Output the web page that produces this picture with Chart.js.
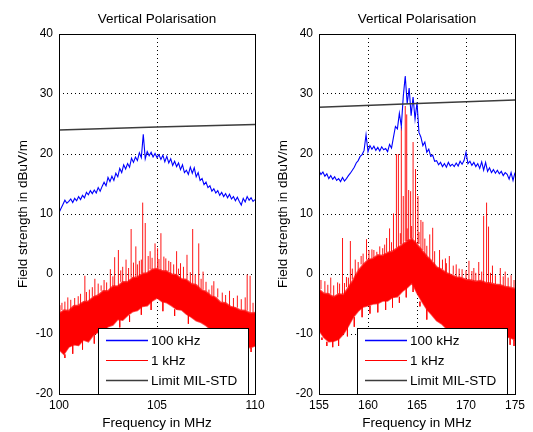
<!DOCTYPE html>
<html>
<head>
<meta charset="utf-8">
<script src="https://cdn.jsdelivr.net/npm/chart.js@4"></script>
<style>
html,body{margin:0;padding:0;background:#fff;}
#wrap{position:relative;width:533px;height:432px;overflow:hidden;}
.panel{position:absolute;top:0;}
</style>
</head>
<body>
<div id="wrap">
<div class="panel" style="left:0"><canvas id="leftChart" width="266" height="432"></canvas></div>
<div class="panel" style="left:266px"><canvas id="rightChart" width="267" height="432"></canvas></div>
</div>
<script>

// DATA

const plotTitle = 'Vertical Polarisation'
const xTitle = 'Frequency in MHz'
const yTitle = 'Field strength in dBuV/m'
const seriesNames = ['100 kHz', '1 kHz', 'Limit MIL-STD']
const yTicks = [-20, -10, 0, 10, 20, 30, 40]

// left panel, 100..110 MHz
const leftTicksX = [100, 105, 110]
const leftBlueStep = 0.1
const leftBlue = [
10.2, 10.9, 11.6, 12.3, 11.8, 12.1, 12.5, 11.9, 12.6, 12.2,
12.9, 12.4, 13.1, 12.7, 13.6, 13.2, 13.9, 13.4, 14.0, 13.5,
14.4, 13.8, 14.6, 15.3, 14.7, 16.1, 15.4, 16.3, 15.6, 16.8,
16.2, 17.6, 16.9, 18.2, 17.5, 18.4, 17.8, 19.3, 18.6, 19.5,
18.9, 20.2, 19.4, 23.3, 19.2, 20.4, 19.7, 20.3, 19.5, 20.1,
19.4, 19.9, 19.1, 19.8, 18.7, 19.6, 18.5, 19.2, 18.1, 18.8,
17.9, 18.5, 17.4, 18.2, 16.9, 17.3, 16.6, 17.8, 16.8, 17.7,
16.2, 16.9, 15.6, 15.9, 14.9, 15.3, 14.4, 14.7, 13.8, 14.2,
13.5, 13.9, 13.1, 13.6, 12.9, 13.4, 12.7, 13.3, 12.5, 12.9,
12.2, 12.8, 12.1, 11.5, 12.6, 12.0, 12.9, 12.3, 12.7, 12.1,
12.4
]
const leftBandStep = 0.25
const leftRedHigh = [
-6.6, -6.0, -6.1, -5.3, -5.2, -4.6, -4.5, -3.8, -3.5, -2.8,
-2.8, -2.0, -2.0, -1.3, -1.3, -0.6, -0.5, 0.1, 0.2, 0.8,
0.9, 0.6, 0.5, 0.0, -0.1, -0.8, -0.9, -1.6, -1.8, -2.6,
-2.9, -3.6, -3.9, -4.7, -4.8, -5.4, -5.6, -6.0, -6.1, -6.5,
-6.4
]
const leftRedLow = [
-12.6, -13.4, -12.2, -11.8, -11.9, -11.0, -11.3, -10.2, -9.7, -9.4,
-8.8, -8.5, -7.6, -7.7, -6.9, -6.3, -6.1, -5.4, -5.3, -4.5,
-4.0, -4.6, -4.8, -5.3, -5.9, -6.0, -6.7, -7.2, -7.8, -8.1,
-8.6, -9.3, -9.2, -9.9, -10.4, -10.2, -11.0, -11.2, -11.6, -12.3,
-12.0
]
// spikes rising above the 1 kHz band
const leftSpikeFreq = [100.05, 100.15, 100.3, 100.45, 100.6, 100.8, 100.98, 101.1, 101.32, 101.4,
101.55, 101.7, 101.83, 102.0, 102.15, 102.3, 102.43, 102.62, 102.75, 102.84,
103.03, 103.15, 103.25, 103.42, 103.55, 103.68, 103.8, 103.92, 104.0, 104.1,
104.2, 104.27, 104.4, 104.55, 104.65, 104.75, 104.9, 105.03, 105.1, 105.2,
105.35, 105.45, 105.6, 105.7, 105.85, 106.0, 106.1, 106.2, 106.35, 106.53,
106.7, 106.82, 106.95, 107.13, 107.25, 107.35, 107.5, 107.65, 107.8, 107.9,
108.1, 108.33, 108.5, 108.7, 108.9, 109.1, 109.3, 109.5, 109.6, 109.75, 109.9]
const leftSpikeTop = [-5.2, -4.8, -4.6, -3.9, -4.3, -4.0, -3.7, -3.3, -0.3, -3.0,
-2.6, -2.2, -0.8, -1.6, -1.9, -1.0, -1.4, 0.8, -0.4, 2.8,
4.0, 0.6, 1.2, 2.4, 1.0, 7.5, 1.9, 4.6, 1.6, 2.2,
2.4, 11.9, 8.5, 3.0, 3.8, 2.7, 5.1, 4.3, 2.5, 6.8,
2.9, 2.6, 2.2, 2.0, 1.6, 3.8, 0.9, 1.8, 1.2, 3.2,
0.3, 7.5, -0.1, 5.1, -0.8, 0.4, -1.3, -2.6, -1.9, -1.2,
-2.4, -3.1, -3.5, -2.8, -4.0, -3.6, -4.2, -3.9, -0.1, -0.3, -4.8]
// dips below the band
const leftDipFreq = [100.3, 100.7, 101.2, 101.8, 102.4, 103.1, 103.6, 104.2, 104.7, 105.3, 105.9, 106.6, 109.2, 109.8]
const leftDipBottom = [-14.0, -13.3, -12.6, -11.6, -10.4, -8.9, -8.0, -6.8, -6.0, -6.2, -7.0, -8.3, -12.6, -13.0]
const leftLimitFreq = [100, 105, 110]
const leftLimit = [24.0, 24.5, 24.9]

// right panel, 155..175 MHz
const rightTicksX = [155, 160, 165, 170, 175]
const rightBlueStep = 0.2
const rightBlue = [
17.2, 16.6, 17.0, 16.3, 16.7, 15.9, 16.4, 15.8, 16.2, 15.6,
15.9, 15.4, 16.1, 15.5, 15.9, 16.4, 16.8, 17.3, 17.8, 18.5,
18.9, 19.6, 19.9, 20.6, 23.2, 20.4, 21.4, 20.8, 21.3, 20.6,
21.1, 20.5, 21.2, 20.7, 20.9, 20.4, 21.6, 21.0, 22.8, 24.6,
24.2, 26.8, 24.6, 29.6, 33.0, 28.4, 31.0, 26.4, 29.5, 25.8,
28.6, 23.6, 22.8, 21.4, 22.0, 20.3, 20.8, 19.6, 19.8, 18.8,
18.9, 18.2, 18.6, 17.9, 18.4, 17.8, 18.6, 18.0, 18.3, 17.9,
18.5, 18.0, 18.8, 18.3, 18.9, 20.3, 18.4, 18.8, 18.1, 18.6,
17.9, 18.4, 17.6, 18.7, 17.3, 18.6, 17.1, 17.7, 16.9, 17.4,
16.8, 17.3, 16.7, 17.1, 16.4, 16.9, 16.6, 15.8, 16.9, 15.6,
16.9
]
const rightBandStep = 0.5
const rightRedHigh = [
-2.5, -3.2, -3.3, -3.8, -3.3, -3.4, -2.2, -0.9, 0.6, 1.6,
2.4, 2.6, 3.2, 3.1, 3.6, 3.8, 4.4, 4.9, 5.5, 5.9,
5.0, 4.0, 3.0, 2.2, 1.2, 0.8, 0.2, -0.1, -0.5, -0.6,
-0.9, -1.0, -1.2, -1.1, -1.4, -1.5, -1.7, -1.8, -2.1, -2.2,
-2.4
]
const rightRedLow = [
-9.4, -10.6, -11.3, -11.2, -10.9, -10.0, -8.7, -7.2, -6.2, -5.5,
-5.3, -5.0, -4.9, -4.5, -4.5, -3.9, -3.8, -2.9, -2.3, -1.5,
-3.2, -4.6, -5.9, -6.8, -7.8, -8.3, -9.1, -9.3, -9.8, -9.7,
-10.1, -9.9, -10.1, -9.7, -9.8, -9.9, -10.3, -10.2, -10.5, -10.6,
-11.0
]
const rightSpikeFreq = [155.2, 155.6, 155.9, 156.2, 156.5, 156.9, 157.1, 157.4, 157.6, 157.8,
158.0, 158.2, 158.4, 158.7, 159.0, 159.3, 159.5, 159.85, 160.1, 160.4,
160.6, 160.9, 161.2, 161.5, 161.7, 161.9, 162.2, 162.4, 162.6, 162.9,
163.1, 163.3, 163.4, 163.6, 163.8, 163.95, 164.0, 164.15, 164.35, 164.45,
164.6, 164.85, 165.1, 165.2, 165.4, 165.6, 165.8, 166.0, 166.3, 166.6,
166.8, 167.3, 167.6, 167.9, 168.0, 168.3, 168.7, 169.0, 169.3, 169.6,
170.0, 170.3, 170.6, 170.8, 171.0, 171.3, 171.6, 171.8, 172.1, 172.3,
172.5, 172.7, 173.0, 173.5, 173.8, 174.0, 174.3, 174.6, 174.9]
const rightSpikeTop = [-1.0, -1.2, -1.8, -0.6, -1.9, -1.4, -1.6, 6.0, -1.5, -0.5,
-0.6, 5.5, 0.9, 2.4, 2.0, 3.0, 3.4, 5.8, 4.0, 4.1,
4.0, 3.7, 4.6, 4.3, 4.9, 6.0, 7.6, 5.3, 10.1, 20.0,
20.0, 6.8, 24.5, 13.0, 28.0, 26.6, 7.6, 14.0, 13.8, 8.0,
22.0, 17.5, 13.0, 7.0, 9.0, 8.7, 5.9, 4.7, 6.6, 7.7,
3.8, 4.0, 2.4, 2.6, 1.8, 3.0, 1.4, 1.6, 0.9, 0.8,
0.6, 2.2, 0.5, 1.0, 0.2, 2.0, 0.4, 9.7, 11.9, 7.9,
0.2, 1.4, -0.2, 1.0, -0.4, 0.4, -0.6, -0.2, -1.0]
const rightDipFreq = [155.3, 155.8, 156.4, 157.0, 157.9, 158.6, 159.4, 160.2, 161.0, 161.8, 162.5, 163.2, 163.9, 164.6, 165.3, 166.0, 174.5, 174.9]
const rightDipBottom = [-11.0, -12.0, -12.2, -12.0, -10.4, -8.8, -7.2, -6.6, -6.4, -6.0, -5.6, -4.8, -3.9, -3.0, -5.4, -7.6, -11.8, -12.0]
const rightLimitFreq = [155, 165, 175]
const rightLimit = [27.8, 28.4, 29.0]


// STYLE

const FONT = '"Liberation Sans", Arial, Helvetica, sans-serif'
const BLUE = '#0000ff'
const RED = '#ff0000'
const LIMIT = '#3c3c3c'

Chart.defaults.font.family = FONT
Chart.defaults.font.size = 12
Chart.defaults.color = '#000'


// HELPERS

function stepped(start, step, values){
return values.map((v,i)=>({x: +(start + i*step).toFixed(3), y: v}))
}

function paired(xs, ys){
return xs.map((x,i)=>({x: x, y: ys[i]}))
}

// vertical strokes starting on the nearest band edge value
function strokes(freqs, ends, start, step, edge){
const pts = []
freqs.forEach((f,i)=>{
let k = Math.round((f - start)/step)
k = Math.max(0, Math.min(edge.length-1, k))
pts.push({x:f, y:edge[k]})
pts.push({x:f, y:ends[i]})
pts.push({x:f, y:null})
})
return pts
}

// title, axes box and legend in MATLAB style
const panelDecor = {
id:'panelDecor',
afterDraw(chart, args, opts){
const ctx = chart.ctx
const a = chart.chartArea
ctx.save()

ctx.fillStyle = '#000'
ctx.font = '13.5px ' + FONT
ctx.textAlign = 'center'
ctx.textBaseline = 'middle'
ctx.fillText(plotTitle, (a.left + a.right)/2, a.top - 15)

// legend
const w = 150, h = 66
const x0 = Math.round(a.right) - opts.legendRight - w
const y0 = Math.round(a.bottom) - h
ctx.fillStyle = '#fff'
ctx.fillRect(x0, y0, w, h)
ctx.strokeStyle = '#000'
ctx.lineWidth = 1
ctx.strokeRect(x0 + 0.5, y0 + 0.5, w, h)

const colors = [BLUE, RED, LIMIT]
seriesNames.forEach((name,i)=>{
const y = y0 + 12.5 + i*20
ctx.strokeStyle = colors[i]
ctx.lineWidth = i == 1 ? 1 : 1.4
ctx.beginPath()
ctx.moveTo(x0 + 8, y)
ctx.lineTo(x0 + 50, y)
ctx.stroke()
ctx.fillStyle = '#000'
ctx.font = '13.5px ' + FONT
ctx.textAlign = 'left'
ctx.fillText(name, x0 + 53, y + 0.5)
})

// axes box
ctx.strokeStyle = '#000'
ctx.lineWidth = 1
ctx.strokeRect(Math.round(a.left) + 0.5, Math.round(a.top) + 0.5, Math.round(a.right - a.left), Math.round(a.bottom - a.top))
ctx.restore()
}
}

function makePanel(id, cfg){
return new Chart(document.getElementById(id), {
type:'line',
data:{
datasets:[
{label: seriesNames[2], data: paired(cfg.limitFreq, cfg.limit), borderColor: LIMIT, borderWidth: 1.5, pointRadius: 0, fill: false},
{label: seriesNames[0], data: stepped(cfg.min, cfg.blueStep, cfg.blue), borderColor: BLUE, borderWidth: 1.1, pointRadius: 0, fill: false},
{label: seriesNames[1] + ' spikes', data: strokes(cfg.spikeFreq, cfg.spikeTop, cfg.min, cfg.bandStep, cfg.redHigh), borderColor: 'rgba(255,0,0,0.92)', borderWidth: 1, pointRadius: 0, spanGaps: false, fill: false},
{label: seriesNames[1] + ' dips', data: strokes(cfg.dipFreq, cfg.dipBottom, cfg.min, cfg.bandStep, cfg.redLow), borderColor: 'rgba(255,0,0,0.85)', borderWidth: 1, pointRadius: 0, spanGaps: false, fill: false},
{label: seriesNames[1], data: stepped(cfg.min, cfg.bandStep, cfg.redHigh), borderColor: 'rgba(255,40,40,0.8)', borderWidth: 1.5, pointRadius: 0, fill: '+1', backgroundColor: RED},
{label: seriesNames[1] + ' low', data: stepped(cfg.min, cfg.bandStep, cfg.redLow), borderColor: 'rgba(255,40,40,0.8)', borderWidth: 1.5, pointRadius: 0, fill: false}
]
},
options:{
responsive:false,
animation:false,
events:[],
layout:{padding:{left:0, top:34, right:cfg.padRight, bottom:0}},
plugins:{
legend:{display:false},
tooltip:{enabled:false},
panelDecor:{legendRight: cfg.legendRight}
},
scales:{
x:{
type:'linear',
min:cfg.min,
max:cfg.max,
afterBuildTicks:(s)=>{ s.ticks = cfg.ticksX.map(v=>({value:v})) },
afterFit:(s)=>{ s.height = 38; s.paddingLeft = 0; s.paddingRight = 0 },
grid:{color:'#000', lineWidth:1, drawTicks:false},
border:{display:false, dash:[1,3]},
ticks:{padding:4, font:{size:12}, color:'#000', maxRotation:0},
title:{display:true, text:xTitle, font:{size:13.5}, padding:{top:0, bottom:1}}
},
y:{
min:-20,
max:40,
afterBuildTicks:(s)=>{ s.ticks = yTicks.map(v=>({value:v})) },
afterFit:(s)=>{ s.width = cfg.yWidth },
grid:{color:'#000', lineWidth:1, drawTicks:false},
border:{display:false, dash:[1,3]},
ticks:{padding:6, font:{size:12}, color:'#000'},
title:{display:true, text:yTitle, font:{size:13.5}, padding:{top:cfg.yTitlePad, bottom:0}}
}
}
},
plugins:[panelDecor]
})
}

makePanel('leftChart', {
min:100, max:110, ticksX:leftTicksX,
blue:leftBlue, blueStep:leftBlueStep,
redHigh:leftRedHigh, redLow:leftRedLow, bandStep:leftBandStep,
spikeFreq:leftSpikeFreq, spikeTop:leftSpikeTop,
dipFreq:leftDipFreq, dipBottom:leftDipBottom,
limitFreq:leftLimitFreq, limit:leftLimit,
yWidth:59, padRight:11, yTitlePad:15, legendRight:7
})

makePanel('rightChart', {
min:155, max:175, ticksX:rightTicksX,
blue:rightBlue, blueStep:rightBlueStep,
redHigh:rightRedHigh, redLow:rightRedLow, bandStep:rightBandStep,
spikeFreq:rightSpikeFreq, spikeTop:rightSpikeTop,
dipFreq:rightDipFreq, dipBottom:rightDipBottom,
limitFreq:rightLimitFreq, limit:rightLimit,
yWidth:53, padRight:18, yTitlePad:9, legendRight:8
})

</script>
</body>
</html>
